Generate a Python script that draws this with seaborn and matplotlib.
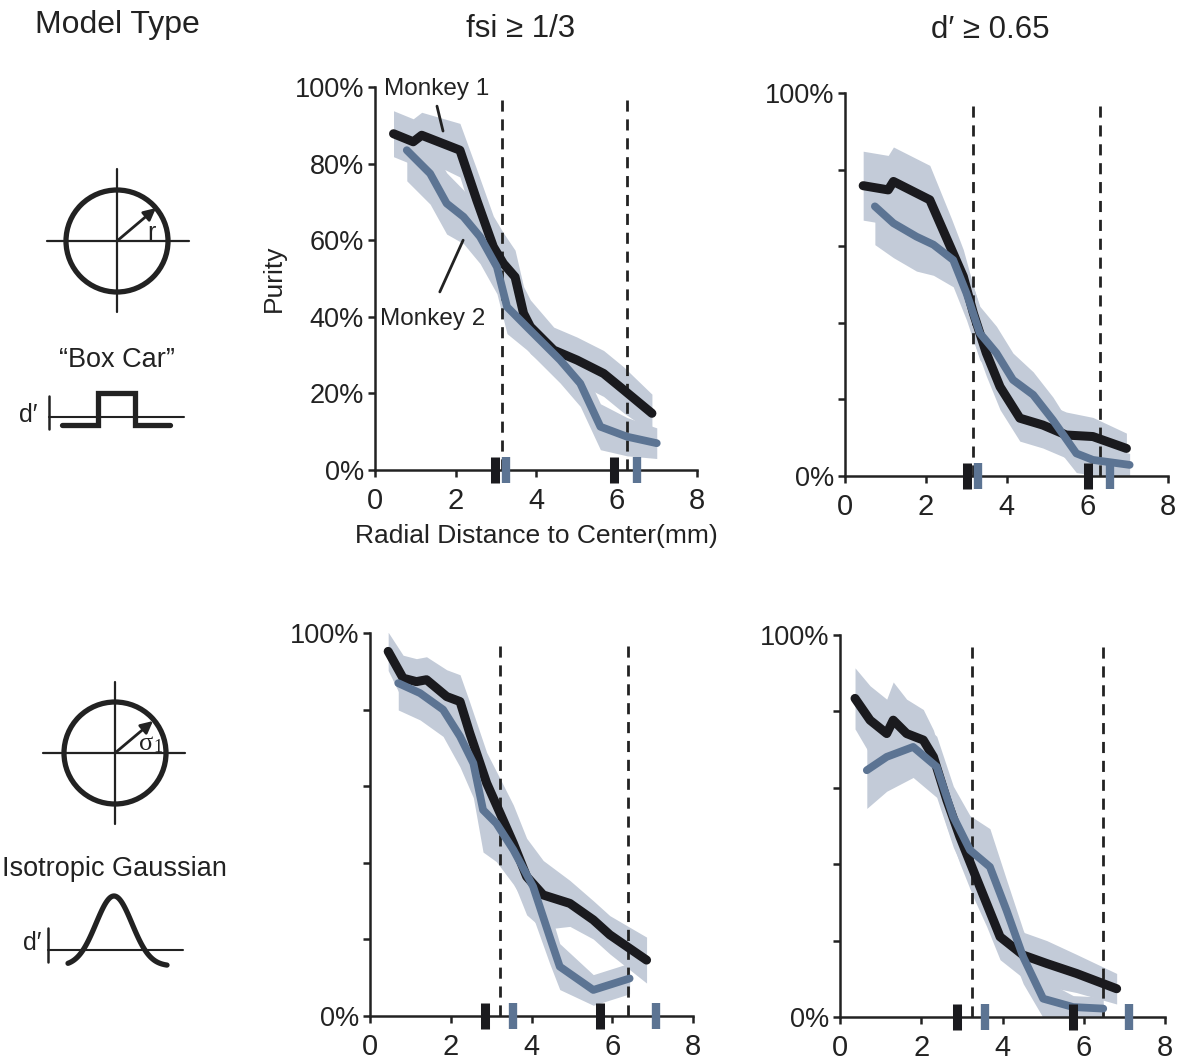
import numpy as np
import pandas as pd
import matplotlib
matplotlib.use("Agg")
import matplotlib.pyplot as plt
import seaborn as sns
from matplotlib.patches import Circle

# ---------------- data ----------------
# Top-left: Box Car, fsi >= 1/3
tl_m1_x = [0.46, 0.95, 1.16, 2.11, 2.53, 2.94, 3.19, 3.48, 3.69, 3.86, 4.44, 5.02, 5.68, 6.18, 6.88]
tl_m1_y = [87.8, 85.7, 87.4, 83.5, 70.4, 58.3, 53.9, 50.4, 40.9, 37.4, 31.3, 28.7, 25.2, 20.9, 14.8]
tl_m1_s = [6, 6, 6, 7, 8, 8, 8, 7, 7, 7, 6, 6, 6, 6, 5]
tl_m2_x = [0.79, 1.37, 1.78, 2.20, 2.61, 3.03, 3.28, 3.77, 4.19, 4.60, 5.10, 5.60, 6.26, 7.00]
tl_m2_y = [83.5, 77.4, 69.6, 66.1, 60.9, 53.0, 42.6, 37.4, 33.0, 28.7, 22.6, 11.3, 8.7, 7.0]
tl_m2_s = [8, 8, 8, 7, 7, 7, 7, 6, 6, 6, 6, 6, 5, 4]
tl_m1_mark = [2.98, 5.95]
tl_m2_mark = [3.26, 6.51]
tl_dash = [3.15, 6.26]

# Top-right: Box Car, d' >= 0.65
tr_m1_x = [0.45, 1.07, 1.20, 2.10, 2.64, 2.93, 3.18, 3.50, 3.84, 4.33, 4.90, 5.48, 6.14, 6.97]
tr_m1_y = [75.8, 74.7, 76.9, 72.1, 59.1, 52.1, 42.5, 32.1, 23.3, 15.1, 13.3, 10.7, 10.3, 7.2]
tr_m1_s = [9, 9, 9, 9, 8, 7, 7, 6, 6, 6, 6, 6, 5, 4]
tr_m2_x = [0.74, 1.20, 1.77, 2.19, 2.68, 3.01, 3.34, 3.75, 4.16, 4.66, 5.15, 5.73, 6.14, 7.05]
tr_m2_y = [70.4, 66.0, 62.5, 60.4, 56.4, 47.7, 37.3, 32.1, 25.1, 21.2, 14.6, 5.9, 4.2, 2.9]
tr_m2_s = [10, 9, 9, 8, 7, 7, 7, 7, 7, 6, 6, 5, 4, 3]
tr_m1_mark = [3.01, 6.02]
tr_m2_mark = [3.30, 6.56]
tr_dash = [3.18, 6.31]

# Bottom-left: Isotropic Gaussian, fsi >= 1/3
bl_m1_x = [0.45, 0.82, 1.15, 1.40, 1.90, 2.23, 2.47, 2.89, 3.22, 3.55, 3.88, 4.29, 4.95, 5.53, 5.94, 6.85]
bl_m1_y = [95.2, 88.2, 87.3, 87.8, 83.4, 82.1, 73.9, 60.8, 53.0, 45.1, 36.4, 31.6, 29.4, 25.1, 21.2, 14.6]
bl_m1_s = [5, 6, 6, 6, 7, 7, 8, 8, 9, 10, 10, 9, 6, 5, 5, 6]
bl_m2_x = [0.70, 1.24, 1.81, 2.23, 2.56, 2.80, 3.13, 3.55, 4.04, 4.45, 4.70, 5.53, 6.43]
bl_m2_y = [86.9, 84.3, 80.0, 73.0, 66.0, 53.8, 50.3, 43.4, 33.8, 20.7, 12.9, 6.8, 9.8]
bl_m2_s = [7, 7, 7, 8, 9, 11, 10, 9, 8, 7, 6, 4, 4]
bl_m1_mark = [2.85, 5.69]
bl_m2_mark = [3.55, 7.09]
bl_dash = [3.22, 6.39]

# Bottom-right: Isotropic Gaussian, d' >= 0.65
br_m1_x = [0.37, 0.74, 1.15, 1.31, 1.64, 2.05, 2.30, 2.63, 2.95, 3.28, 3.61, 3.94, 4.51, 5.09, 5.82, 6.81]
br_m1_y = [83.4, 77.7, 74.2, 77.7, 74.2, 72.5, 68.1, 56.8, 47.2, 38.4, 29.7, 21.0, 16.2, 14.0, 11.4, 7.4]
br_m1_s = [8, 9, 9, 10, 9, 8, 7, 7, 7, 7, 6, 6, 6, 6, 5, 4]
br_m2_x = [0.66, 1.15, 1.80, 2.38, 2.79, 3.20, 3.69, 4.10, 4.51, 5.00, 5.74, 6.48]
br_m2_y = [64.6, 68.1, 70.7, 65.5, 52.4, 43.7, 39.3, 27.9, 15.7, 4.8, 2.6, 2.2]
br_m2_s = [10, 9, 8, 8, 8, 9, 10, 8, 7, 5, 3, 3]
br_m1_mark = [2.87, 5.74]
br_m2_mark = [3.57, 7.12]
br_dash = [3.24, 6.48]

y_ticks = [0, 20, 40, 60, 80, 100]
x_ticks = [0, 2, 4, 6, 8]
col_titles = ["fsi \u2265 1/3", "d\u2032 \u2265 0.65"]
model_names = ["\u201cBox Car\u201d", "Isotropic Gaussian"]

# ---------------- style ----------------
sns.set_theme(style="ticks")
plt.rcParams["font.family"] = ["Liberation Sans", "DejaVu Sans"]
plt.rcParams["axes.linewidth"] = 1.8
TXT = "#222222"
C1 = "#1a1a1e"
C2 = "#5c7493"
BAND = "#c3cbd8"

W, H = 1181, 1062
fig = plt.figure(figsize=(W / 100, H / 100), dpi=100)


def px_rect(x0, x1, ytop, ybot):
    return [x0 / W, 1 - ybot / H, (x1 - x0) / W, (ybot - ytop) / H]


panels = [
    dict(rect=px_rect(375, 697, 87, 470), m1=(tl_m1_x, tl_m1_y, tl_m1_s), m2=(tl_m2_x, tl_m2_y, tl_m2_s),
         mk1=tl_m1_mark, mk2=tl_m2_mark, dash=tl_dash, full=True),
    dict(rect=px_rect(845, 1168, 93, 476), m1=(tr_m1_x, tr_m1_y, tr_m1_s), m2=(tr_m2_x, tr_m2_y, tr_m2_s),
         mk1=tr_m1_mark, mk2=tr_m2_mark, dash=tr_dash, full=False),
    dict(rect=px_rect(370, 693, 633, 1016), m1=(bl_m1_x, bl_m1_y, bl_m1_s), m2=(bl_m2_x, bl_m2_y, bl_m2_s),
         mk1=bl_m1_mark, mk2=bl_m2_mark, dash=bl_dash, full=False),
    dict(rect=px_rect(840, 1165, 635, 1017), m1=(br_m1_x, br_m1_y, br_m1_s), m2=(br_m2_x, br_m2_y, br_m2_s),
         mk1=br_m1_mark, mk2=br_m2_mark, dash=br_dash, full=False),
]

axes = []
for p in panels:
    ax = fig.add_axes(p["rect"], zorder=2)
    ax.patch.set_alpha(0)
    rows = []
    for name, (xs, ys, ss) in (("Monkey 1", p["m1"]), ("Monkey 2", p["m2"])):
        xs, ys, ss = np.array(xs), np.array(ys), np.array(ss)
        ax.fill_between(xs, ys - ss, ys + ss, color=BAND, lw=0, zorder=1)
        rows.append(pd.DataFrame({"x": xs, "y": ys, "monkey": name}))
    df = pd.concat(rows, ignore_index=True)
    ax.vlines(p["dash"], 0, 97, colors=TXT, lw=2.0, linestyles=(0, (4, 2.8)), zorder=2)
    sns.lineplot(data=df[df.monkey == "Monkey 1"], x="x", y="y", color=C1, lw=6.5,
                 estimator=None, sort=False, legend=False, ax=ax, zorder=3)
    sns.lineplot(data=df[df.monkey == "Monkey 2"], x="x", y="y", color=C2, lw=5.6,
                 estimator=None, sort=False, legend=False, ax=ax, zorder=4)
    ax.vlines(p["mk1"], -3.3, 3.3, colors=C1, lw=6.5, clip_on=False, zorder=6)
    ax.vlines(p["mk2"], -3.3, 3.3, colors=C2, lw=6.0, clip_on=False, zorder=6)
    ax.set_xlim(0, 8)
    ax.set_ylim(0, 100)
    ax.set_xticks(x_ticks)
    ax.set_xticklabels([str(v) for v in x_ticks])
    ax.set_yticks(y_ticks)
    if p["full"]:
        ax.set_yticklabels([f"{v}%" for v in y_ticks])
    else:
        ax.set_yticklabels([f"{v}%" if v in (0, 100) else "" for v in y_ticks])
    ax.set_xlabel("")
    ax.set_ylabel("")
    for s in ("top", "right"):
        ax.spines[s].set_visible(False)
    for s in ("left", "bottom"):
        ax.spines[s].set_color(TXT)
        ax.spines[s].set_linewidth(1.8)
    ax.tick_params(axis="both", direction="out", length=5, width=1.8, color=TXT, labelcolor=TXT)
    ax.tick_params(axis="y", labelsize=19.5, pad=3)
    ax.tick_params(axis="x", labelsize=21, pad=7)
    axes.append(ax)

ax = axes[0]
ax.set_xlabel("Radial Distance to Center(mm)", fontsize=19, color=TXT, labelpad=7)
ax.set_ylabel("Purity", fontsize=19, color=TXT, labelpad=6)
ax.text(1.54, 99.5, "Monkey 1", fontsize=17.5, color=TXT, ha="center", va="center", zorder=7)
ax.plot([1.54, 1.69], [95.0, 88.5], color=TXT, lw=2.0, zorder=7)
ax.text(1.42, 39.5, "Monkey 2", fontsize=17.5, color=TXT, ha="center", va="center", zorder=7)
ax.plot([1.61, 2.19], [46.5, 60.0], color=TXT, lw=2.0, zorder=7)

# ---------------- schematic / titles overlay (pixel coordinates) ----------------
a0 = fig.add_axes([0, 0, 1, 1], zorder=1)
a0.set_xlim(0, W)
a0.set_ylim(H, 0)
a0.axis("off")

a0.text(117, 33, "Model Type", fontsize=23, color=TXT, ha="center", va="baseline")
a0.text(521, 37, col_titles[0], fontsize=22.5, color=TXT, ha="center", va="baseline")
a0.text(990, 38, col_titles[1], fontsize=22.5, color=TXT, ha="center", va="baseline")


def circle_icon(cx, cy, r, hx0, hx1, vy0, vy1, tip):
    a0.add_patch(Circle((cx, cy), r, fill=False, lw=3.8, ec=TXT))
    a0.plot([hx0, hx1], [cy, cy], color=TXT, lw=1.6)
    a0.plot([cx, cx], [vy0, vy1], color=TXT, lw=1.6)
    a0.annotate("", xy=tip, xytext=(cx, cy),
                arrowprops=dict(arrowstyle="-|>", lw=2.0, color=TXT, mutation_scale=18,
                                shrinkA=0, shrinkB=0))


circle_icon(117, 241, 51, 47, 189, 169, 312, (156, 208))
a0.text(151, 233, "r", fontsize=18, color=TXT, ha="center", va="center")
circle_icon(115, 753, 51, 43, 185, 682, 824, (153, 721))
SERIF = ["Liberation Serif", "DejaVu Serif"]
a0.text(146, 744, "\u03c3", fontsize=19, color=TXT, ha="center", va="center", family=SERIF)
a0.text(158, 748, "1", fontsize=13, color=TXT, ha="center", va="center", family=SERIF)

a0.text(117, 367, model_names[0], fontsize=19.5, color=TXT, ha="center", va="baseline")
a0.text(114, 876, model_names[1], fontsize=19.5, color=TXT, ha="center", va="baseline")

# box car icon
a0.text(28, 415, "d\u2032", fontsize=18, color=TXT, ha="center", va="center")
a0.plot([49, 49], [396, 429], color=TXT, lw=1.8)
a0.plot([49, 184], [417, 417], color=TXT, lw=1.5)
a0.plot([62, 98, 98, 135, 135, 170], [425, 425, 393, 393, 425, 425], color=TXT, lw=3.8,
        solid_joinstyle="miter")

# gaussian icon
a0.text(32, 943, "d\u2032", fontsize=18, color=TXT, ha="center", va="center")
a0.plot([48, 48], [928, 962], color=TXT, lw=1.8)
a0.plot([48, 183], [950, 950], color=TXT, lw=1.5)
gx = np.linspace(68, 167, 120)
gy = 966 - 70 * np.exp(-((gx - 114) ** 2) / (2 * 18.0 ** 2))
a0.plot(gx, gy, color=TXT, lw=3.8, solid_capstyle="round")

fig.savefig("out.png", dpi=100)
